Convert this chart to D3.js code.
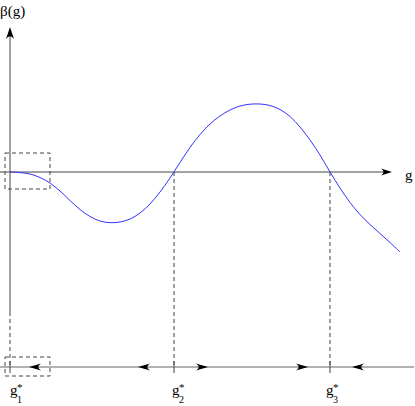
<!DOCTYPE html>
<html>
<head>
<meta charset="utf-8">
<script src="https://cdn.jsdelivr.net/npm/d3@7"></script>
<style>
  body { margin: 0; background: #fff; }
</style>
</head>
<body>
<script>
// beta function curve: g = 0..39, beta(g)
var gValues = [0, 1, 2, 3, 4, 5, 6, 7, 8, 9, 10, 11, 12, 13, 14, 15, 16, 17, 18, 19,
    20, 21, 22, 23, 24, 25, 26, 27, 28, 29, 30, 31, 32, 33, 34, 35, 36, 37, 38, 39];
var betaValues = [0, -0.06, -0.2, -0.55, -1.1, -1.9, -2.85, -3.75, -4.45, -4.9,
    -5.07, -5.0, -4.7, -4.1, -3.2, -2.0, -0.6, 0.95, 2.45, 3.75,
    4.8, 5.6, 6.2, 6.6, 6.78, 6.8, 6.65, 6.25, 5.55, 4.5,
    3.2, 1.7, 0, -1.6, -3.05, -4.25, -5.25, -6.15, -7.05, -8.0];

// fixed points
var fixedPoints = [0, 16.4, 32];
var fixedLabels = ["1", "2", "3"];

// flow arrows on the lower line: tip position and direction
var flowTips = [1.9, 12.8, 19.8, 29.8, 34.2];
var flowDirs = [-1, -1, 1, 1, -1];

var width = 415, height = 406;

var svg = d3.select("body").append("svg")
    .attr("width", width)
    .attr("height", height)
    .attr("font-family", "'Liberation Serif', 'Times New Roman', 'DejaVu Serif', serif");

var x = d3.scaleLinear().domain([0, 40]).range([10, 410]);
var y = d3.scaleLinear().domain([-10, 10]).range([272, 72]);
var lineY = 367;

var axisColor = "#444";

// arrowhead path (tip at 0,0 pointing +x)
function head(len, hw) {
    return "M0,0 L" + (-len) + "," + (-hw) + " Q" + (-len * 0.55) + ",0 " + (-len) + "," + hw + " Z";
}

// dashed boxes
svg.append("rect")
    .attr("x", x(0) - 5).attr("y", y(0) - 19)
    .attr("width", 45).attr("height", 36)
    .attr("fill", "none").attr("stroke", axisColor)
    .attr("stroke-width", 1).attr("stroke-dasharray", "4,3");

svg.append("rect")
    .attr("x", x(0) - 5).attr("y", lineY - 10)
    .attr("width", 45).attr("height", 19)
    .attr("fill", "none").attr("stroke", axisColor)
    .attr("stroke-width", 1).attr("stroke-dasharray", "4,3");

// bottom line
svg.append("line")
    .attr("x1", 0).attr("x2", 414)
    .attr("y1", lineY).attr("y2", lineY)
    .attr("stroke", "#999").attr("stroke-width", 1.3);

// vertical axis: solid part then dashed down to the line
svg.append("line")
    .attr("x1", x(0)).attr("x2", x(0))
    .attr("y1", 312).attr("y2", 34)
    .attr("stroke", axisColor).attr("stroke-width", 1);
svg.append("line")
    .attr("x1", x(0)).attr("x2", x(0))
    .attr("y1", 312).attr("y2", lineY)
    .attr("stroke", axisColor).attr("stroke-width", 1)
    .attr("stroke-dasharray", "4,3");
svg.append("path")
    .attr("d", head(12, 4))
    .attr("transform", "translate(" + x(0) + ",27) rotate(-90)")
    .attr("fill", "#000");

// horizontal axis
svg.append("line")
    .attr("x1", 0).attr("x2", 386)
    .attr("y1", y(0)).attr("y2", y(0))
    .attr("stroke", axisColor).attr("stroke-width", 1);
svg.append("path")
    .attr("d", head(11, 3.5))
    .attr("transform", "translate(392," + y(0) + ")")
    .attr("fill", "#000");

// dashed drop lines from fixed points
svg.selectAll(".drop")
    .data(fixedPoints.slice(1))
    .enter().append("line")
    .attr("class", "drop")
    .attr("x1", function(d) { return x(d); })
    .attr("x2", function(d) { return x(d); })
    .attr("y1", y(0)).attr("y2", lineY)
    .attr("stroke", axisColor).attr("stroke-width", 1)
    .attr("stroke-dasharray", "4,3");

// ticks on the bottom line
svg.selectAll(".tick")
    .data(fixedPoints)
    .enter().append("line")
    .attr("class", "tick")
    .attr("x1", function(d) { return x(d); })
    .attr("x2", function(d) { return x(d); })
    .attr("y1", lineY - 6).attr("y2", lineY + 6)
    .attr("stroke", axisColor).attr("stroke-width", 1);

// flow arrows
svg.selectAll(".flow")
    .data(flowTips)
    .enter().append("path")
    .attr("class", "flow")
    .attr("d", head(12, 3.5))
    .attr("transform", function(d, i) {
        return "translate(" + x(d) + "," + lineY + ")" + (flowDirs[i] < 0 ? " rotate(180)" : "");
    })
    .attr("fill", "#000");

// the curve
var pts = gValues.map(function(g, i) { return [g, betaValues[i]]; });
var line = d3.line()
    .x(function(d) { return x(d[0]); })
    .y(function(d) { return y(d[1]); })
    .curve(d3.curveCatmullRom.alpha(0.5));

svg.append("path")
    .datum(pts)
    .attr("d", line)
    .attr("fill", "none")
    .attr("stroke", "#3333ff")
    .attr("stroke-width", 1);

// labels
svg.append("text")
    .attr("x", 0).attr("y", 16)
    .attr("font-size", 15)
    .text("β(g)");

svg.append("text")
    .attr("x", 405).attr("y", 180)
    .attr("font-size", 15)
    .text("g");

var lab = svg.selectAll(".flab")
    .data(fixedPoints)
    .enter().append("g")
    .attr("class", "flab")
    .attr("transform", function(d, i) {
        var off = i == 0 ? 0 : (i == 1 ? -2 : -4);
        return "translate(" + (x(d) + off) + ",0)";
    });
lab.append("text").attr("x", 0).attr("y", 395).attr("font-size", 15).text("g");
lab.append("text").attr("x", 7).attr("y", 391).attr("font-size", 11).text("*");
lab.append("text").attr("x", 7).attr("y", 403).attr("font-size", 10)
    .text(function(d, i) { return fixedLabels[i]; });
</script>
</body>
</html>
